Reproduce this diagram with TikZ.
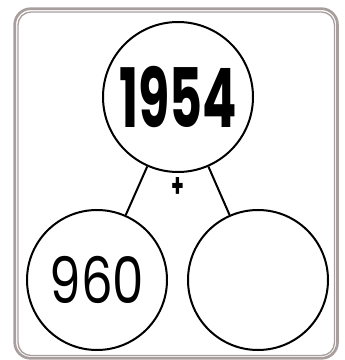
\documentclass[tikz,border=0pt]{standalone}
\usepackage{fontspec}
\usetikzlibrary{positioning}
\newfontfamily\wholefont[FakeStretch=0.62]{Poppins}
\newfontfamily\partfont[FakeStretch=0.78]{Poppins}
\definecolor{rimgrey}{HTML}{A89E9E}

\begin{document}
\begin{tikzpicture}[x=1pt,y=1pt,
    bond/.style={circle,draw,line width=2pt,inner sep=0pt,minimum size=#1},
    leg/.style={line width=2pt}]
    \useasboundingbox (0,0) rectangle (345,360);
    \draw[rimgrey,line width=2.7pt,rounded corners=16pt] (14.7,1.7) rectangle (337.5,351.3);
    \draw[rimgrey,line width=1.3pt,rounded corners=13pt] (18,4.5) rectangle (334.5,348);
    \node[bond=150pt,font=\wholefont\bfseries\fontsize{82}{82}\selectfont] (whole) at (178,263) {1954};
    \node[bond=140pt,font=\partfont\fontsize{64}{64}\selectfont] (partA) at (97,80) {960};
    \node[bond=140pt] (partB) at (258,80) {};
    \draw[leg] (whole) -- (partA);
    \draw[leg] (whole) -- (partB);
    \node[font=\wholefont\bfseries\fontsize{33}{33}\selectfont] (plus) at (178,172) {+};
  \end{tikzpicture}
\end{document}
